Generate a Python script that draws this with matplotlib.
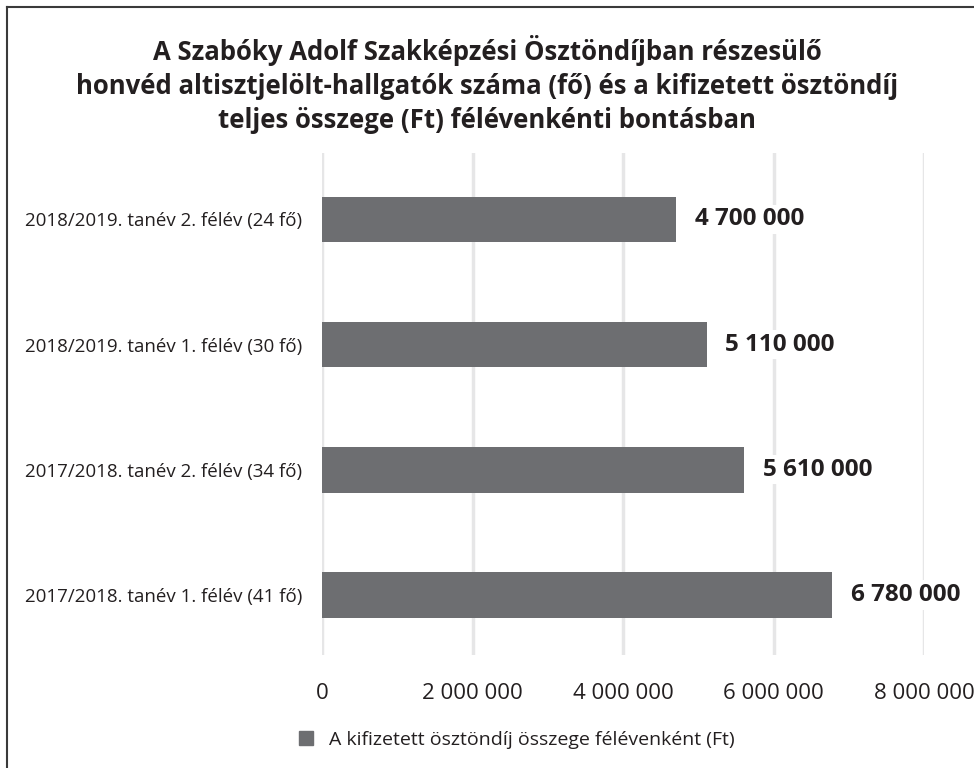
import matplotlib.pyplot as plt
from matplotlib.lines import Line2D
from matplotlib.ticker import FuncFormatter

# data (bottom to top)
categories = ['2017/2018. tanév 1. félév (41 fő)',
              '2017/2018. tanév 2. félév (34 fő)',
              '2018/2019. tanév 1. félév (30 fő)',
              '2018/2019. tanév 2. félév (24 fő)']
amounts = [6780000, 5610000, 5110000, 4700000]
xticks = [0, 2000000, 4000000, 6000000, 8000000]
title = ('A Szabóky Adolf Szakképzési Ösztöndíjban részesülő\n'
         'honvéd altisztjelölt-hallgatók száma (fő) és a kifizetett ösztöndíj\n'
         'teljes összege (Ft) félévenkénti bontásban')
legend_label = 'A kifizetett ösztöndíj összege félévenként (Ft)'

bar_color = '#6d6e71'
grid_color = '#e6e6e7'
text_color = '#231f20'

plt.rcParams['font.family'] = ['Open Sans', 'DejaVu Sans']


def space_fmt(v, pos=None):
    return f'{int(v):,}'.replace(',', ' ')


fig = plt.figure(figsize=(9.74, 7.68), dpi=100)
ax = fig.add_axes([0.3306, 0.1471, 0.6181, 0.6536])

ypos = list(range(len(categories)))
ax.barh(ypos, amounts, height=0.365, color=bar_color, zorder=2)

for y, v in zip(ypos, amounts):
    ax.text(v + 250000, y, space_fmt(v), va='center', ha='left',
            fontsize=17.5, fontweight='bold', color=text_color, zorder=3,
            bbox=dict(facecolor='white', edgecolor='none', pad=2))

ax.set_xlim(0, 8000000)
ax.set_ylim(-0.48, 3.53)
ax.set_xticks(xticks)
ax.xaxis.set_major_formatter(FuncFormatter(space_fmt))
ax.set_yticks(ypos)
ax.set_yticklabels(categories)
ax.tick_params(axis='x', length=0, pad=20, labelsize=16, labelcolor=text_color)
ax.tick_params(axis='y', length=0, pad=14, labelsize=13.5, labelcolor=text_color)
ax.grid(axis='x', color=grid_color, linewidth=2.5, zorder=0)
ax.set_axisbelow(True)
for s in ax.spines.values():
    s.set_visible(False)

fig.text(0.5, 0.955, title, ha='center', va='top', fontsize=18.5,
         fontweight='bold', color=text_color, linespacing=1.34)

handle = Line2D([], [], marker='s', linestyle='none', markersize=9.5,
                color=bar_color)
fig.legend([handle], [legend_label], loc='center', bbox_to_anchor=(0.524, 0.037),
           frameon=False, fontsize=14, handletextpad=0.2,
           labelcolor=text_color)

# frame: top and left edges
fig.add_artist(Line2D([0.0075, 1.0], [0.991, 0.991], color='#3a3a3a',
                      linewidth=1.5, transform=fig.transFigure))
fig.add_artist(Line2D([0.0075, 0.0075], [0.0, 0.991], color='#3a3a3a',
                      linewidth=1.5, transform=fig.transFigure))

fig.savefig('out.png', dpi=100)
